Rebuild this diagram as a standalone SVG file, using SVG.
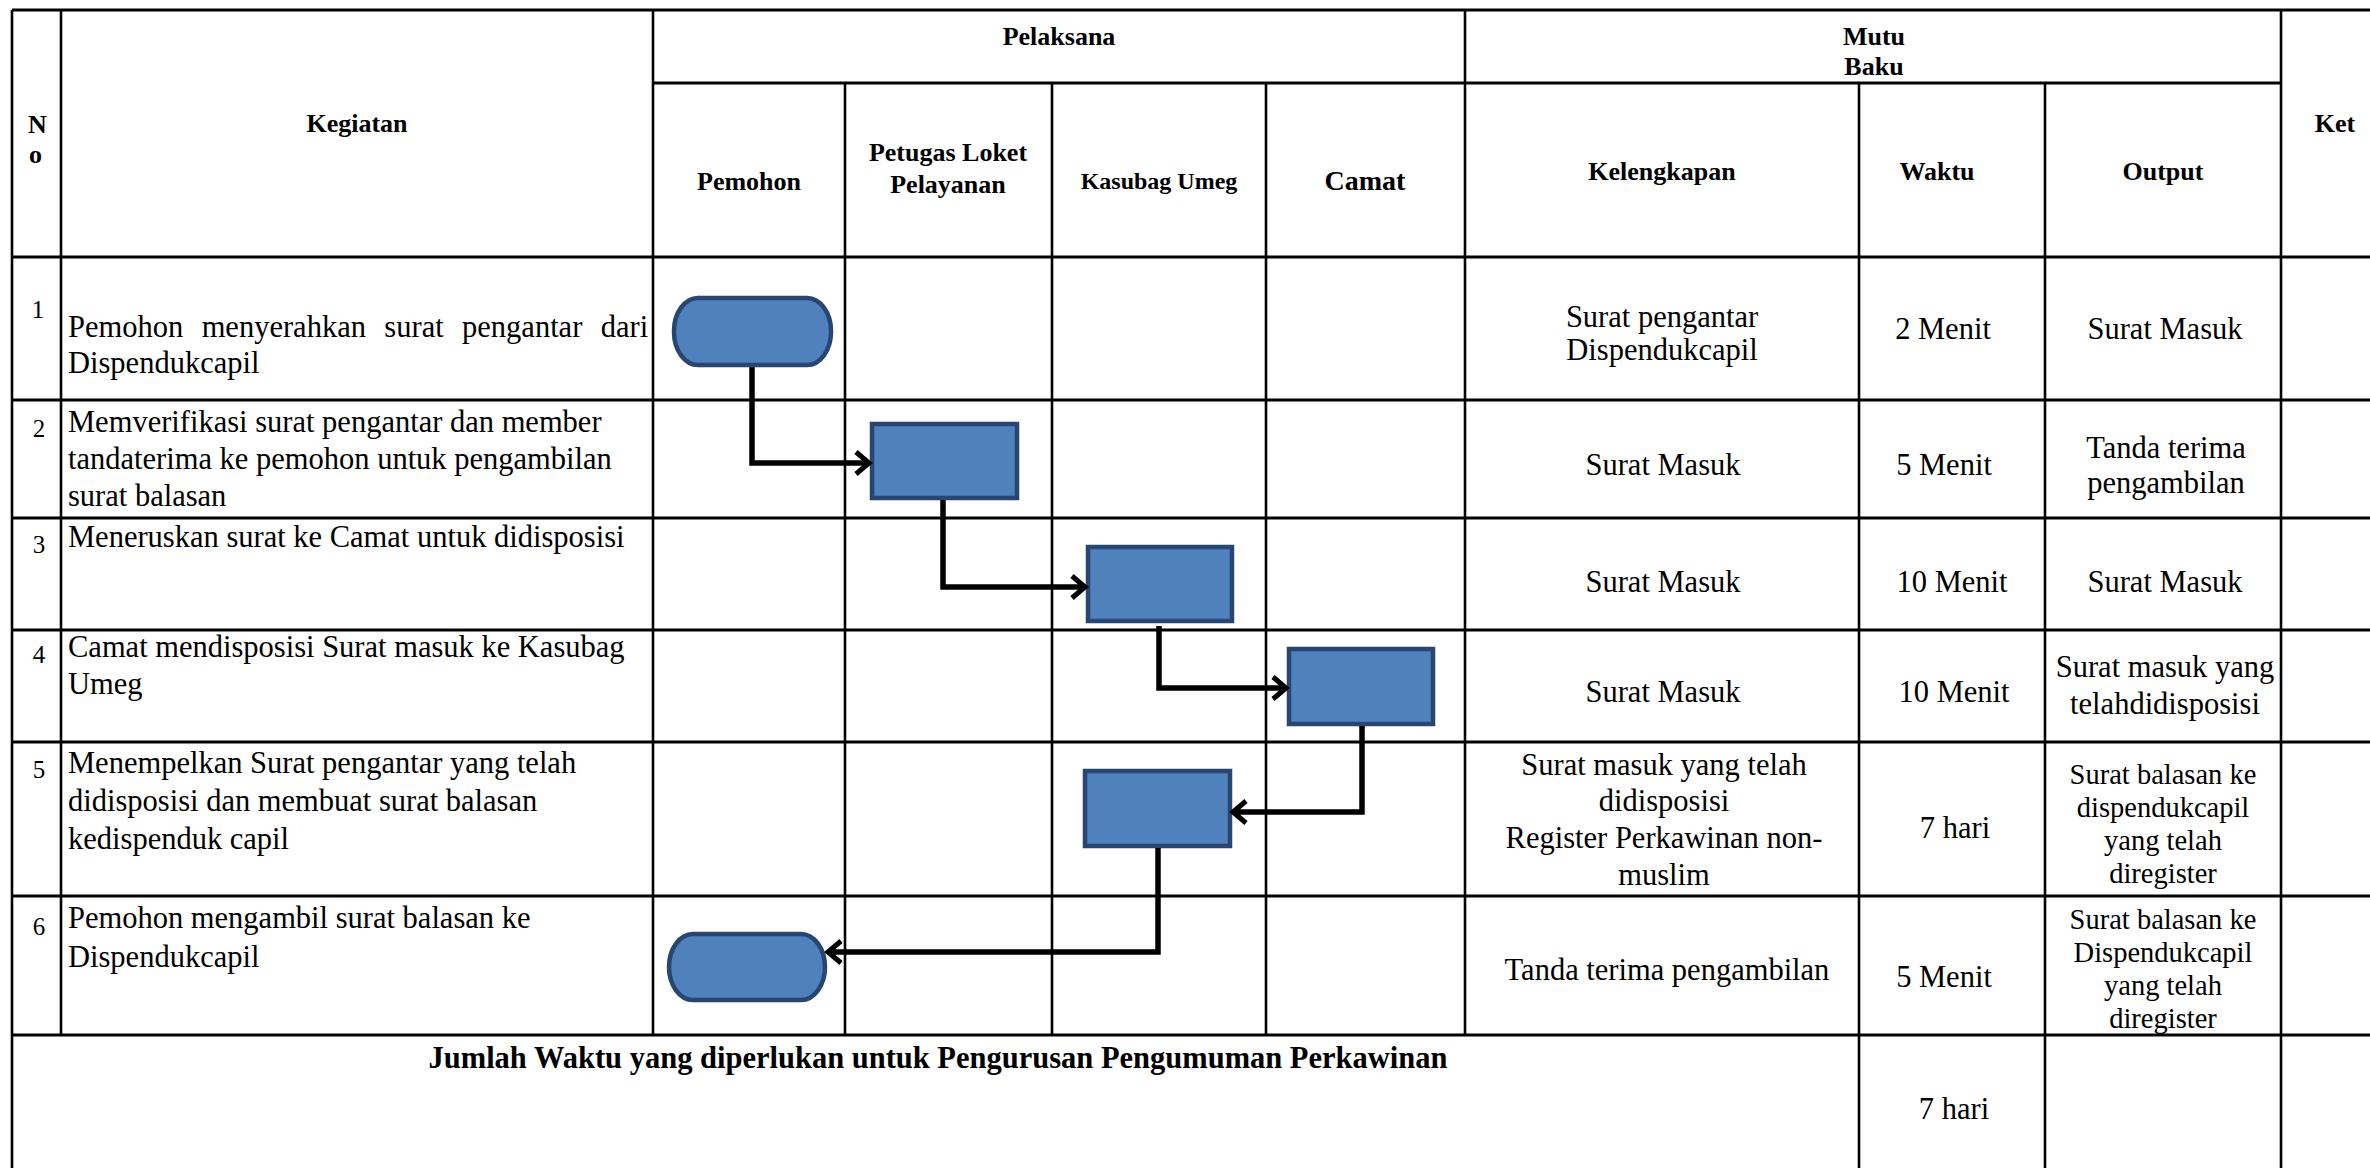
<svg xmlns="http://www.w3.org/2000/svg" width="2370" height="1168" viewBox="0 0 2370 1168">
  <style>
    text { font-family: "Liberation Serif", "Times New Roman", serif; font-size: 30.5px; fill: #000; }
    .h { font-weight: bold; font-size: 26px; }
    .c { text-anchor: middle; }
    .n { font-size: 25px; text-anchor: middle; }
    .o { font-size: 28.5px; text-anchor: middle; }
    .grid line { stroke: #000; stroke-width: 3; }
    .grid line.v { stroke-width: 2.6; }
    .node { fill: #4F81BD; stroke: #284670; stroke-width: 4.5; }
    .conn path { fill: none; stroke: #000; stroke-width: 5.5; marker-end: url(#arrow); }
  </style>
  <defs>
    <marker id="arrow" markerUnits="userSpaceOnUse" viewBox="-20 -16 24 32" markerWidth="24" markerHeight="32" refX="0" refY="0" orient="auto">
      <path d="M-13,-11 L0,0 L-13,11" fill="none" stroke="#000" stroke-width="5"/>
    </marker>
  </defs>

  <rect x="0" y="0" width="2370" height="1168" fill="#fff"/>

  <!-- table grid -->
  <g class="grid">
    <line x1="12" y1="10" x2="2380" y2="10"/>
    <line x1="653" y1="83" x2="2281" y2="83"/>
    <line x1="12" y1="257" x2="2380" y2="257"/>
    <line x1="12" y1="400" x2="2380" y2="400"/>
    <line x1="12" y1="518" x2="2380" y2="518"/>
    <line x1="12" y1="630" x2="2380" y2="630"/>
    <line x1="12" y1="742" x2="2380" y2="742"/>
    <line x1="12" y1="896" x2="2380" y2="896"/>
    <line x1="12" y1="1035" x2="2380" y2="1035"/>
    <line class="v" x1="12" y1="10" x2="12" y2="1170"/>
    <line class="v" x1="61" y1="10" x2="61" y2="1035"/>
    <line class="v" x1="653" y1="10" x2="653" y2="1035"/>
    <line class="v" x1="845" y1="83" x2="845" y2="1035"/>
    <line class="v" x1="1052" y1="83" x2="1052" y2="1035"/>
    <line class="v" x1="1266" y1="83" x2="1266" y2="1035"/>
    <line class="v" x1="1465" y1="10" x2="1465" y2="1035"/>
    <line class="v" x1="1859" y1="83" x2="1859" y2="1170"/>
    <line class="v" x1="2045" y1="83" x2="2045" y2="1170"/>
    <line class="v" x1="2281" y1="10" x2="2281" y2="1170"/>
  </g>

  <!-- header -->
  <g id="header">
    <text class="h" x="28" y="133">N</text>
    <text class="h" x="29" y="163">o</text>
    <text class="h c" x="357" y="132">Kegiatan</text>
    <text class="h c" x="1059" y="45">Pelaksana</text>
    <text class="h c" x="1874" y="45">Mutu</text>
    <text class="h c" x="1874" y="75">Baku</text>
    <text class="h c" x="2335" y="132">Ket</text>
    <text class="h c" x="749" y="190">Pemohon</text>
    <text class="h c" x="948" y="161">Petugas Loket</text>
    <text class="h c" x="948" y="193">Pelayanan</text>
    <text class="h c" x="1159" y="189" style="font-size:24px">Kasubag Umeg</text>
    <text class="h c" x="1365" y="190" style="font-size:28px">Camat</text>
    <text class="h c" x="1662" y="180">Kelengkapan</text>
    <text class="h c" x="1937" y="180">Waktu</text>
    <text class="h c" x="2163" y="180">Output</text>
  </g>

  <!-- activity rows -->
  <g id="row-1">
    <text class="n" x="38" y="318">1</text>
    <text x="68" y="337" word-spacing="10.8">Pemohon menyerahkan surat pengantar dari</text>
    <text x="68" y="373">Dispendukcapil</text>
    <text class="c" x="1662" y="327">Surat pengantar</text>
    <text class="c" x="1662" y="360">Dispendukcapil</text>
    <text class="c" x="1943" y="339">2 Menit</text>
    <text class="c" x="2165" y="339">Surat Masuk</text>
  </g>
  <g id="row-2">
    <text class="n" x="39" y="437">2</text>
    <text x="68" y="432">Memverifikasi surat pengantar dan member</text>
    <text x="68" y="469">tandaterima ke pemohon untuk pengambilan</text>
    <text x="68" y="506">surat balasan</text>
    <text class="c" x="1663" y="475">Surat Masuk</text>
    <text class="c" x="1944" y="475">5 Menit</text>
    <text class="c" x="2166" y="458">Tanda terima</text>
    <text class="c" x="2166" y="493">pengambilan</text>
  </g>
  <g id="row-3">
    <text class="n" x="39" y="553">3</text>
    <text x="68" y="547">Meneruskan surat ke Camat untuk didisposisi</text>
    <text class="c" x="1663" y="592">Surat Masuk</text>
    <text class="c" x="1952" y="592">10 Menit</text>
    <text class="c" x="2165" y="592">Surat Masuk</text>
  </g>
  <g id="row-4">
    <text class="n" x="39" y="663">4</text>
    <text x="68" y="657">Camat mendisposisi Surat masuk ke Kasubag</text>
    <text x="68" y="694">Umeg</text>
    <text class="c" x="1663" y="702">Surat Masuk</text>
    <text class="c" x="1954" y="702">10 Menit</text>
    <text class="c" x="2165" y="677">Surat masuk yang</text>
    <text class="c" x="2165" y="714">telahdidisposisi</text>
  </g>
  <g id="row-5">
    <text class="n" x="39" y="778">5</text>
    <text x="68" y="773">Menempelkan Surat pengantar yang telah</text>
    <text x="68" y="811">didisposisi dan membuat surat balasan</text>
    <text x="68" y="849">kedispenduk capil</text>
    <text class="c" x="1664" y="775">Surat masuk yang telah</text>
    <text class="c" x="1664" y="811">didisposisi</text>
    <text class="c" x="1664" y="848">Register Perkawinan non-</text>
    <text class="c" x="1664" y="885">muslim</text>
    <text class="c" x="1955" y="838">7 hari</text>
    <text class="o" x="2163" y="784">Surat balasan ke</text>
    <text class="o" x="2163" y="817">dispendukcapil</text>
    <text class="o" x="2163" y="850">yang telah</text>
    <text class="o" x="2163" y="883">diregister</text>
  </g>
  <g id="row-6">
    <text class="n" x="39" y="935">6</text>
    <text x="68" y="928">Pemohon mengambil surat balasan ke</text>
    <text x="68" y="967">Dispendukcapil</text>
    <text class="c" x="1667" y="980">Tanda terima pengambilan</text>
    <text class="c" x="1944" y="987">5 Menit</text>
    <text class="o" x="2163" y="929">Surat balasan ke</text>
    <text class="o" x="2163" y="962">Dispendukcapil</text>
    <text class="o" x="2163" y="995">yang telah</text>
    <text class="o" x="2163" y="1028">diregister</text>
  </g>
  <g id="total">
    <text class="c" x="938" y="1068" style="font-weight:bold">Jumlah Waktu yang diperlukan untuk Pengurusan Pengumuman Perkawinan</text>
    <text class="c" x="1954" y="1119">7 hari</text>
  </g>

  <!-- flow nodes -->
  <g id="start"><rect class="node" x="674" y="298" width="157" height="67" rx="24" ry="33"/></g>
  <g id="verify"><rect class="node" x="872" y="424" width="145" height="74"/></g>
  <g id="forward"><rect class="node" x="1088" y="547" width="144" height="74"/></g>
  <g id="dispose"><rect class="node" x="1289" y="649" width="144" height="75"/></g>
  <g id="reply"><rect class="node" x="1085" y="771" width="145" height="75"/></g>
  <g id="finish"><rect class="node" x="669" y="934" width="156" height="66" rx="24" ry="33"/></g>

  <!-- connectors -->
  <g class="conn">
    <path d="M752,367 V463 H869"/>
    <path d="M943,500 V587 H1085"/>
    <path d="M1159,626 V688 H1286"/>
    <path d="M1362,726 V812 H1233"/>
    <path d="M1158,848 V952 H828"/>
  </g>
</svg>
